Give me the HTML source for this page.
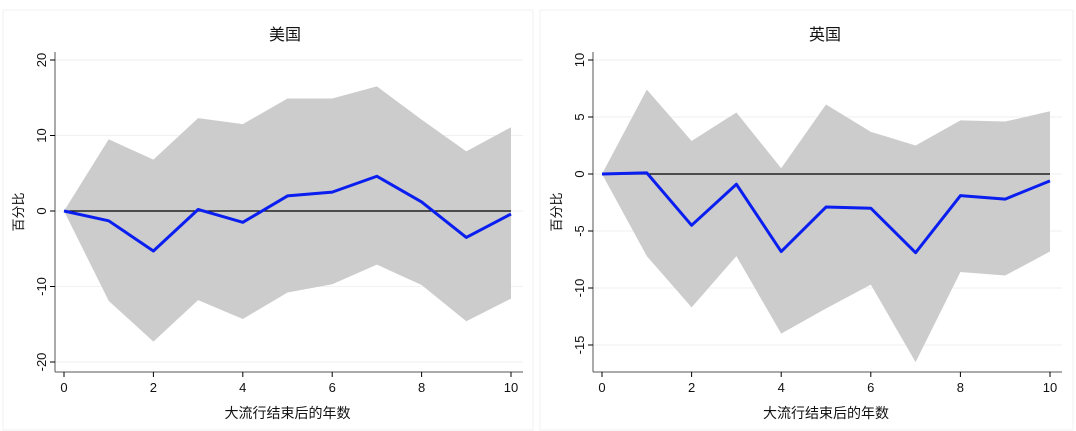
<!DOCTYPE html>
<html><head><meta charset="utf-8"><style>
html,body{margin:0;padding:0;background:#fff;}
svg{display:block;font-family:"Liberation Sans","Noto Sans CJK SC",sans-serif;}
</style></head><body>
<svg id="s" width="1076" height="431" xmlns="http://www.w3.org/2000/svg"></svg>
<script>
var s=document.getElementById('s'),h='';
h+='<rect x="0" y="0" width="1076" height="431" fill="#fff"/>';
h+='<rect x="3" y="10" width="530" height="420" fill="none" stroke="#f2f2f2"/>';
h+='<rect x="540" y="10" width="533" height="420" fill="none" stroke="#f2f2f2"/>';
function panel(o){
 var X=function(i){return o.x0+i*(o.x1-o.x0)/10;};
 var Y=function(v){return o.y0-v*o.ppu;};
 h+='<text x="'+o.tx+'" y="40" font-size="16" text-anchor="middle" fill="#111">'+o.title+'</text>';
 // gridlines
 o.ticks.forEach(function(t){h+='<line x1="'+o.ax+'" x2="'+(o.x1+12)+'" y1="'+Y(t)+'" y2="'+Y(t)+'" stroke="#eef2f2" stroke-width="1"/>';});
 var p='';for(var i=0;i<=10;i++)p+=X(i)+','+Y(o.up[i])+' ';
 for(var i=10;i>=0;i--)p+=X(i)+','+Y(o.lo[i])+' ';
 h+='<polygon points="'+p+'" fill="#cccccc"/>';
 h+='<line x1="'+X(0)+'" x2="'+X(10)+'" y1="'+Y(0)+'" y2="'+Y(0)+'" stroke="#000" stroke-width="1.2"/>';
 var l='';for(var i=0;i<=10;i++)l+=X(i)+','+Y(o.b[i])+' ';
 h+='<polyline points="'+l+'" fill="none" stroke="#0a1ef0" stroke-width="3" stroke-linejoin="round"/>';
 h+='<line x1="'+o.ax+'" x2="'+o.ax+'" y1="52" y2="372" stroke="#555"/>';
 h+='<line x1="'+o.ax+'" x2="'+(o.x1+12)+'" y1="372" y2="372" stroke="#555"/>';
 o.ticks.forEach(function(t){var y=Y(t);h+='<line x1="'+(o.ax-5)+'" x2="'+o.ax+'" y1="'+y+'" y2="'+y+'" stroke="#000"/>';
  h+='<text transform="translate('+(o.ax-9)+','+y+') rotate(-90)" font-size="13" text-anchor="middle" fill="#111">'+t+'</text>';});
 [0,2,4,6,8,10].forEach(function(t){h+='<line x1="'+X(t)+'" x2="'+X(t)+'" y1="372" y2="377" stroke="#000"/>';
  h+='<text x="'+X(t)+'" y="392" font-size="13" text-anchor="middle" fill="#111">'+t+'</text>';});
 h+='<text x="'+(o.x0+o.x1)/2+'" y="418" font-size="14" text-anchor="middle" fill="#111">大流行结束后的年数</text>';
 h+='<text transform="translate('+(o.ax-32)+',212) rotate(-90)" font-size="13" text-anchor="middle" fill="#111">百分比</text>';
}
panel({title:'美国',tx:285,x0:64,x1:511,y0:211,ppu:7.55,ax:55,ticks:[20,10,0,-10,-20],
 b:[0,-1.3,-5.3,0.2,-1.5,2,2.5,4.6,1.2,-3.5,-0.4],
 up:[0,9.5,6.8,12.3,11.5,14.9,14.9,16.5,12.1,7.9,11.1],
 lo:[0,-11.9,-17.3,-11.8,-14.3,-10.8,-9.7,-7.1,-9.8,-14.6,-11.6]});
panel({title:'英国',tx:825,x0:602,x1:1050,y0:174,ppu:11.4,ax:593,ticks:[10,5,0,-5,-10,-15],
 b:[0,0.1,-4.5,-0.9,-6.8,-2.9,-3.0,-6.9,-1.9,-2.2,-0.6],
 up:[0,7.4,2.9,5.4,0.5,6.1,3.7,2.5,4.7,4.6,5.5],
 lo:[0,-7.2,-11.7,-7.2,-14,-11.8,-9.7,-16.5,-8.6,-8.9,-6.8]});
s.innerHTML=h;
</script>
</body></html>
